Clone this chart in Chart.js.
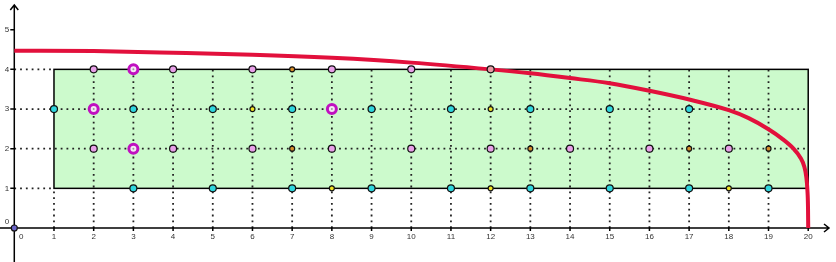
<!DOCTYPE html>
<html>
<head>
<meta charset="utf-8">
<script src="https://cdn.jsdelivr.net/npm/chart.js@4"></script>
<style>
  html, body { margin: 0; background: #fff; }
</style>
</head>
<body>
<canvas id="chart" width="836" height="262"></canvas>
<script>
"use strict";

// red curve
const curveX = [0, 2, 4, 6, 8, 10, 12, 13, 14, 15, 16, 17, 18, 18.5, 19, 19.33, 19.63, 19.8, 19.9, 19.95, 19.98, 19.995, 20];
const curveY = [4.47, 4.46, 4.42, 4.37, 4.29, 4.17, 4.0, 3.9, 3.78, 3.65, 3.46, 3.24, 2.97, 2.77, 2.49, 2.26, 2.0, 1.78, 1.55, 1.3, 0.95, 0.5, 0];

// points by colour
const cyanX = [1, 3, 5, 7, 9, 11, 13, 15, 17, 3, 5, 7, 9, 11, 13, 15, 17, 19];
const cyanY = [3, 3, 3, 3, 3, 3, 3, 3, 3, 1, 1, 1, 1, 1, 1, 1, 1, 1];
const pinkX = [2, 4, 6, 8, 10, 2, 4, 6, 8, 10, 12, 14, 16, 18];
const pinkY = [4, 4, 4, 4, 4, 2, 2, 2, 2, 2, 2, 2, 2, 2];
const orangeX = [7, 7, 13, 17, 19];
const orangeY = [4, 2, 2, 2, 2];
const yellowX = [6, 12, 8, 12, 18];
const yellowY = [3, 3, 1, 1, 1];
const ringX = [3, 2, 8, 3];
const ringY = [4, 3, 3, 2];
const salmonX = [12];
const salmonY = [4];
const originX = [0];
const originY = [0];

// green box corners
const boxX = [1, 20];
const boxY = [1, 4];

// axes
const xTicks = [0, 1, 2, 3, 4, 5, 6, 7, 8, 9, 10, 11, 12, 13, 14, 15, 16, 17, 18, 19, 20];
const yTicks = [0, 1, 2, 3, 4, 5];

function pts(xs, ys) {
  return xs.map((v, i) => ({ x: v, y: ys[i] }));
}

const backdrop = {
  id: "backdrop",
  beforeDatasetsDraw(chart) {
    const ctx = chart.ctx;
    const xs = chart.scales.x;
    const ys = chart.scales.y;
    const X = v => xs.getPixelForValue(v);
    const Y = v => ys.getPixelForValue(v);
    ctx.save();

    // green box
    ctx.fillStyle = "#ccfacc";
    ctx.fillRect(X(boxX[0]), Y(boxY[1]), X(boxX[1]) - X(boxX[0]), Y(boxY[0]) - Y(boxY[1]));

    // dotted helper lines
    ctx.strokeStyle = "#222";
    ctx.lineWidth = 1.8;
    ctx.setLineDash([1.8, 4]);
    ctx.beginPath();
    for (let i = 1; i < xTicks.length - 1; i++) {
      const t = xTicks[i];
      ctx.moveTo(X(t), Y(0));
      ctx.lineTo(X(t), Y(t === boxX[0] ? boxY[0] : boxY[1]));
    }
    for (let i = 1; i < yTicks.length - 1; i++) {
      const t = yTicks[i];
      ctx.moveTo(X(0), Y(t));
      ctx.lineTo(X(t === boxY[0] || t === boxY[1] ? boxX[0] : boxX[1]), Y(t));
    }
    ctx.stroke();
    ctx.setLineDash([]);

    // box border
    ctx.strokeStyle = "#000";
    ctx.lineWidth = 1.5;
    ctx.strokeRect(X(boxX[0]), Y(boxY[1]), X(boxX[1]) - X(boxX[0]), Y(boxY[0]) - Y(boxY[1]));

    // axes
    const ox = X(0), oy = Y(0);
    const right = chart.width - 7;
    const top = 5;
    ctx.lineWidth = 1.5;
    ctx.beginPath();
    ctx.moveTo(0, oy); ctx.lineTo(right, oy);
    ctx.moveTo(ox, chart.height); ctx.lineTo(ox, top);
    // arrows
    ctx.moveTo(right - 5, oy - 4); ctx.lineTo(right, oy); ctx.lineTo(right - 5, oy + 4);
    ctx.moveTo(ox - 4, top + 5); ctx.lineTo(ox, top); ctx.lineTo(ox + 4, top + 5);
    // ticks
    xTicks.forEach(t => { if (t !== 0) { ctx.moveTo(X(t), oy); ctx.lineTo(X(t), oy + 3); } });
    yTicks.forEach(t => { if (t !== 0) { ctx.moveTo(ox, Y(t)); ctx.lineTo(ox - 4, Y(t)); } });
    ctx.stroke();

    // tick labels
    ctx.fillStyle = "#333";
    ctx.font = "8px 'Liberation Sans', Arial, sans-serif";
    ctx.textBaseline = "top";
    ctx.textAlign = "center";
    xTicks.forEach(t => {
      const lx = t === 0 ? ox + 7 : X(t);
      ctx.fillText(String(t), lx, oy + 5);
    });
    ctx.textAlign = "right";
    ctx.textBaseline = "middle";
    yTicks.forEach(t => {
      const ly = t === 0 ? oy - 6 : Y(t);
      ctx.fillText(String(t), ox - 5, ly);
    });

    ctx.restore();
  }
};

function dots(label, xs, ys, fill, r, order) {
  return {
    label: label,
    data: pts(xs, ys),
    pointRadius: r,
    pointBackgroundColor: fill,
    pointBorderColor: "#111",
    pointBorderWidth: 1.2,
    order: order
  };
}

const config = {
  type: "scatter",
  data: {
    datasets: [
      {
        label: "curve",
        data: pts(curveX, curveY),
        showLine: true,
        pointRadius: 0,
        borderColor: "#e2103c",
        borderWidth: 4,
        cubicInterpolationMode: "monotone",
        order: 10
      },
      dots("cyan", cyanX, cyanY, "#2fd6de", 3.5, 2),
      dots("pink", pinkX, pinkY, "#e8a0e8", 3.5, 2),
      dots("salmon", salmonX, salmonY, "#e89aa4", 3.5, 2),
      dots("orange", orangeX, orangeY, "#d8902c", 2.5, 2),
      dots("yellow", yellowX, yellowY, "#f2e424", 2.5, 2),
      {
        label: "ring",
        data: pts(ringX, ringY),
        pointRadius: 4.5,
        pointBackgroundColor: "#f6e6f6",
        pointBorderColor: "#c010c0",
        pointBorderWidth: 3,
        order: 1
      },
      {
        label: "ringCentre",
        data: pts(ringX, ringY),
        pointRadius: 1,
        pointBackgroundColor: "#999",
        pointBorderWidth: 0,
        order: 0
      },
      dots("origin", originX, originY, "#6a64c8", 3, 1)
    ]
  },
  options: {
    responsive: false,
    animation: false,
    events: [],
    layout: { autoPadding: false, padding: 0 },
    plugins: {
      legend: { display: false },
      tooltip: { enabled: false }
    },
    scales: {
      x: { type: "linear", min: -0.36, max: 20.70, display: false },
      y: { type: "linear", min: -0.857, max: 5.749, display: false }
    }
  },
  plugins: [backdrop]
};

const myChart = new Chart(document.getElementById("chart"), config);
</script>
</body>
</html>
